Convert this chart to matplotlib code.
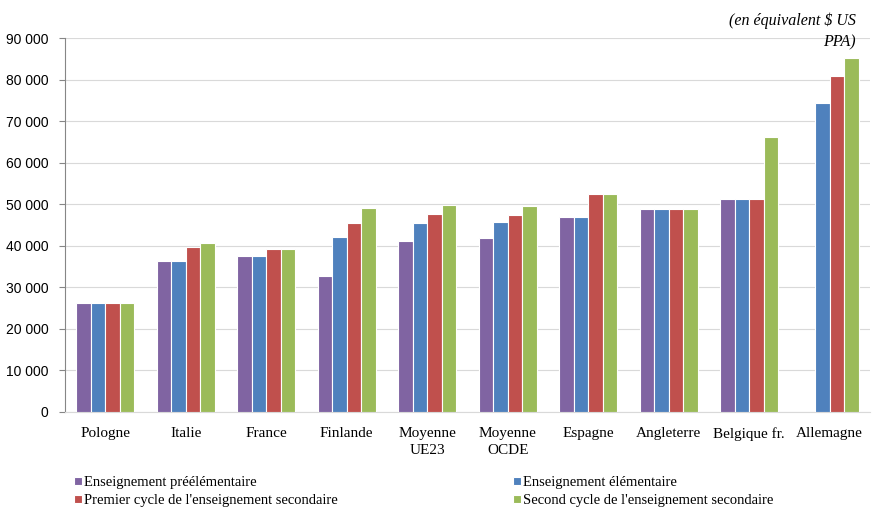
import numpy as np
import matplotlib.pyplot as plt
from matplotlib.ticker import FuncFormatter

pays = ["Pologne", "Italie", "France", "Finlande", "Moyenne\nUE23", "Moyenne\nOCDE",
        "Espagne", "Angleterre", "Belgique fr.", "Allemagne"]
preelem = [26300, 36400, 37600, 32800, 41200, 41900, 47000, 48900, 51300, np.nan]
elem = [26300, 36400, 37600, 42200, 45550, 45800, 47000, 48900, 51300, 74350]
premier = [26300, 39750, 39300, 45550, 47700, 47450, 52500, 48900, 51300, 80850]
second = [26300, 40750, 39300, 49150, 49900, 49650, 52500, 48900, 66150, 85150]

series = ["Enseignement préélémentaire", "Enseignement élémentaire",
          "Premier cycle de l'enseignement secondaire", "Second cycle de l'enseignement secondaire"]
colors = ["#8064a2", "#4f81bd", "#c0504d", "#9bbb59"]

plt.rcParams['font.family'] = ['Liberation Serif', 'DejaVu Serif']

fig = plt.figure(figsize=(8.81, 5.09), dpi=100)
ax = fig.add_axes([0.0738, 0.1906, 0.9137, 0.7347])

x = np.arange(len(pays))
w = 0.18
bars = []
for i, vals in enumerate([preelem, elem, premier, second]):
    b = ax.bar(x + (i - 1.5) * w, vals, w, color=colors[i], edgecolor="white", linewidth=0.8,
               label=series[i], zorder=3)
    bars.append(b)

ax.set_xlim(-0.5, len(pays) - 0.5)
ax.set_ylim(0, 90000)
ax.set_yticks(np.arange(0, 90001, 10000))
ax.yaxis.set_major_formatter(FuncFormatter(lambda v, p: f"{int(v):,}".replace(",", " ")))
ax.grid(axis="y", color="#d9d9d9", linewidth=0.8, zorder=0)
ax.set_xticks(x)
ax.set_xticklabels(pays, fontsize=11, linespacing=1.35)
ax.tick_params(axis="x", length=0, pad=11)
ax.tick_params(axis="y", length=4, color="#868686", labelsize=10, pad=8)
for lab in ax.get_yticklabels():
    lab.set_family("Liberation Sans")
for s in ["top", "right"]:
    ax.spines[s].set_visible(False)
ax.spines["left"].set_color("#868686")
ax.spines["bottom"].set_color("#d9d9d9")

fig.text(0.971, 0.975, "(en équivalent $ US\nPPA)", ha="right", va="top", style="italic",
         fontsize=11.5, linespacing=1.4)

# ordre par ligne comme dans l'original
order = [0, 2, 1, 3]
fig.legend([bars[i] for i in order], [series[i] for i in order],
           loc="lower left", bbox_to_anchor=(0.069, -0.022), ncol=2, frameon=False,
           fontsize=10.5, handlelength=0.55, handleheight=0.55, handletextpad=0.15,
           columnspacing=12.0, labelspacing=0.33)

fig.savefig("out.png", dpi=100)
